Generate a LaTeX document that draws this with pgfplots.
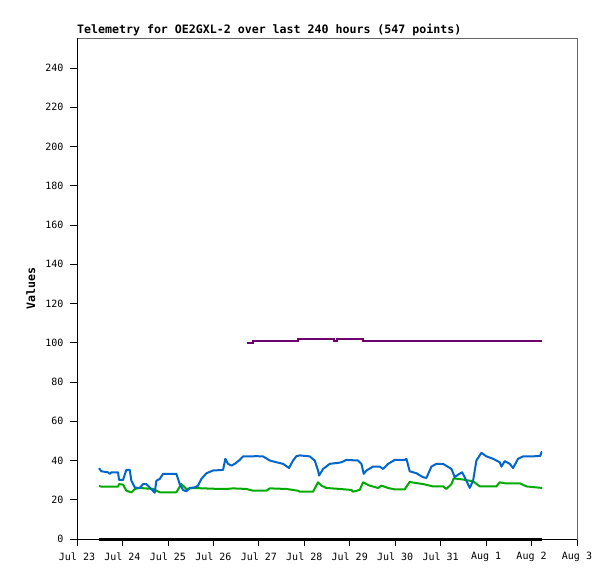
\documentclass[border=0pt]{standalone}
\usepackage{pgfplots}
\pgfplotsset{compat=1.18}
\usepackage{pgfplotstable}
\usepackage{fontspec}
\setmainfont{DejaVu Sans Mono}
\setmonofont{DejaVu Sans Mono}
\definecolor{tblue}{RGB}{0,102,204}
\definecolor{tgreen}{RGB}{0,170,0}
\definecolor{tpurple}{RGB}{110,0,110}
\pgfplotstableread{
x y
0.485 36.1
0.536 34.5
0.683 34.0
0.719 33.2
0.760 34.0
0.903 34.0
0.925 30.1
1.013 30.1
1.086 35.2
1.160 35.2
1.196 29.7
1.270 26.3
1.343 26.0
1.380 26.0
1.453 28.0
1.526 28.0
1.600 26.3
1.710 23.6
1.746 29.7
1.820 30.6
1.893 33.2
2.186 33.2
2.260 28.0
2.333 25.0
2.406 24.3
2.480 26.0
2.590 26.3
2.663 27.2
2.736 30.6
2.846 33.5
2.993 34.9
3.213 35.2
3.264 40.9
3.323 38.3
3.396 37.4
3.470 38.3
3.580 40.3
3.653 42.1
3.800 42.1
3.947 42.2
4.093 42.1
4.240 40.0
4.387 39.1
4.533 38.3
4.665 36.2
4.753 40.0
4.827 42.2
4.900 42.6
5.120 42.1
5.230 40.0
5.303 34.9
5.325 32.3
5.413 35.7
5.560 38.3
5.743 38.8
5.817 39.1
5.927 40.3
6.183 40.0
6.257 38.3
6.308 33.2
6.367 34.9
6.513 36.9
6.660 36.9
6.733 35.7
6.843 38.3
6.990 40.3
7.210 40.3
7.247 40.9
7.320 34.5
7.467 33.5
7.613 31.5
7.687 31.1
7.797 36.9
7.907 38.3
8.053 38.3
8.237 35.7
8.310 31.5
8.383 32.8
8.471 34.0
8.530 31.5
8.640 26.0
8.714 29.7
8.787 40.0
8.897 43.9
9.007 42.1
9.153 40.9
9.300 39.1
9.337 36.9
9.410 39.7
9.520 38.3
9.594 36.2
9.704 40.9
9.813 42.1
10.033 42.1
10.195 42.4
10.217 44.3
10.233 44.3
}\bluedata
\pgfplotstableread{
x y
0.485 27.0
0.536 26.7
0.903 26.7
0.925 28.0
1.013 27.7
1.086 24.6
1.196 23.8
1.270 25.5
1.380 26.0
1.673 25.5
1.820 23.8
2.186 23.8
2.296 28.0
2.406 25.5
2.553 26.0
3.140 25.5
3.286 25.5
3.433 25.8
3.727 25.5
3.873 24.6
4.166 24.6
4.240 25.8
4.607 25.5
4.863 24.6
4.900 24.1
5.193 24.1
5.303 28.9
5.377 27.2
5.487 26.0
5.780 25.5
6.037 25.0
6.073 24.1
6.220 25.0
6.293 28.9
6.440 27.2
6.623 26.0
6.697 27.2
6.843 26.0
6.990 25.3
7.210 25.3
7.320 29.2
7.357 28.9
7.613 28.0
7.833 26.8
8.053 26.8
8.127 25.5
8.237 28.0
8.288 30.9
8.493 30.3
8.714 29.4
8.860 26.8
9.227 26.8
9.300 28.9
9.410 28.4
9.740 28.4
9.887 26.8
10.233 26.0
}\greendata
\pgfplotstableread{
x y
3.740 100
3.872 100
3.872 101
4.856 101
4.856 102
5.655 102
5.655 101
5.729 101
5.729 102
6.293 102
6.293 101
10.240 101
}\purpledata
\pgfplotstableread{
x y
0.485 0
10.233 0
}\blackdata
\begin{document}
\begin{tikzpicture}
\useasboundingbox[fill=white] (0,0) rectangle (615pt,579pt);
\begin{axis}[
  at={(77pt,40pt)}, anchor=south west,
  scale only axis, width=500pt, height=501pt,
  xmin=0, xmax=11, ymin=0, ymax=255.3,
  clip=false,
  axis line style={gray!80!black, line width=0.8pt},
  xtick={0,1,2,3,4,5,6,7,8,9,10,11},
  xticklabels={Jul 23,Jul 24,Jul 25,Jul 26,Jul 27,Jul 28,Jul 29,Jul 30,Jul 31,Aug 1,Aug 2,Aug 3},
  ytick={0,20,40,60,80,100,120,140,160,180,200,220,240},
  xtick pos=bottom, ytick pos=left,
  tick align=outside,
  major tick length=7pt,
  tick style={black, line width=0.8pt},
  /pgf/number format/assume math mode=true,
  ticklabel style={font=\fontsize{10}{12}\selectfont},
  yticklabel style={xshift=-3pt},
  xticklabel style={yshift=-3pt},
  ylabel={\textbf{Values}},
  ylabel style={at={(axis description cs:-0.0926,0.5)}, anchor=center, font=\fontsize{11.6}{13}\selectfont},
  title={\textbf{Telemetry for OE2GXL-2 over last 240 hours (547 points)}},
  title style={at={(axis description cs:0,1)}, anchor=base west, yshift=-1.3pt, inner sep=0pt, font=\fontsize{11.6}{13}\selectfont},
]
\addplot[tgreen, line width=2pt, line join=round] table[x=x,y=y] {\greendata};
\addplot[tblue, line width=2pt, line join=round] table[x=x,y=y] {\bluedata};
\addplot[tpurple, line width=2pt] table[x=x,y=y] {\purpledata};
\addplot[black, line width=3pt] table[x=x,y=y] {\blackdata};
\draw[black, line width=0.9pt] (rel axis cs:0,1) -- (rel axis cs:0,0) -- (rel axis cs:1,0);
\end{axis}
\end{tikzpicture}
\end{document}
